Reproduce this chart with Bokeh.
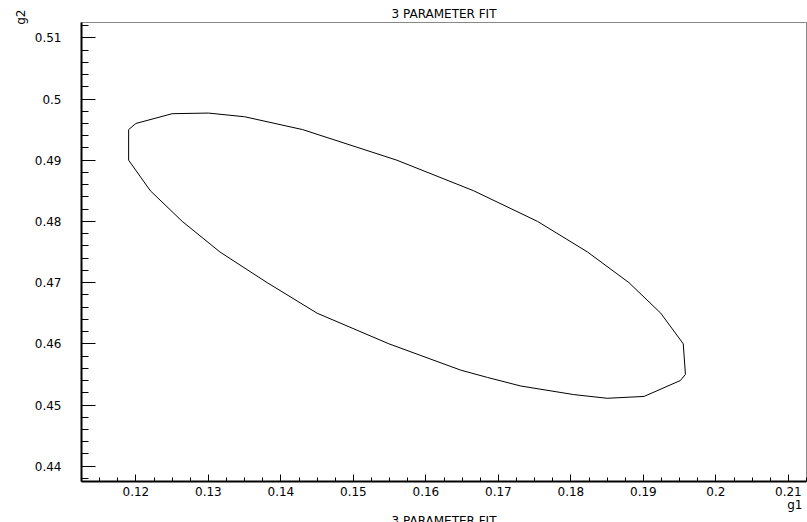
from bokeh.plotting import figure
from bokeh.models import Range1d, FixedTicker, Title
from bokeh.embed import file_html
from bokeh.resources import INLINE

# contour of the 3-parameter fit (g1, g2)
G1 = [0.1190, 0.1190, 0.1200, 0.1250, 0.1300, 0.1350, 0.1430, 0.1560, 0.1666,
      0.1754, 0.1823, 0.1880, 0.1924, 0.1955, 0.1958, 0.1951, 0.1901, 0.1850,
      0.1804, 0.1731, 0.1685, 0.1648, 0.1549, 0.1450, 0.1381, 0.1316, 0.1264,
      0.1220, 0.1190]
G2 = [0.4900, 0.4950, 0.4960, 0.4976, 0.4977, 0.4971, 0.4950, 0.4900, 0.4850,
      0.4800, 0.4750, 0.4700, 0.4650, 0.4600, 0.4550, 0.4540, 0.4514, 0.4511,
      0.4517, 0.4531, 0.4545, 0.4557, 0.4600, 0.4650, 0.4700, 0.4750, 0.4800,
      0.4850, 0.4900]

X_TICKS = [0.12, 0.13, 0.14, 0.15, 0.16, 0.17, 0.18, 0.19, 0.20, 0.21]
X_LABELS = ["0.12", "0.13", "0.14", "0.15", "0.16", "0.17", "0.18", "0.19", "0.2", "0.21"]
Y_TICKS = [0.44, 0.45, 0.46, 0.47, 0.48, 0.49, 0.50, 0.51]
Y_LABELS = ["0.44", "0.45", "0.46", "0.47", "0.48", "0.49", "0.5", "0.51"]

TITLE = "3 PARAMETER FIT"
X_TITLE = "g1"
Y_TITLE = "g2"

X0, X1 = 0.1125, 0.2125
Y0, Y1 = 0.4375, 0.5125

FONT = "DejaVu Sans"

p = figure(frame_width=725, frame_height=459, output_backend="svg",
           toolbar_location=None,
           x_range=Range1d(X0, X1), y_range=Range1d(Y0, Y1),
           min_border_left=81, min_border_right=1, min_border_top=22,
           min_border_bottom=0)
p.background_fill_color = "white"
p.border_fill_color = "white"
p.outline_line_color = "#888888"
p.outline_line_width = 1
p.xgrid.visible = False
p.ygrid.visible = False

p.title.text = TITLE
p.title.align = "center"
p.title.text_font = FONT
p.title.text_font_size = "12px"
p.title.text_font_style = "normal"
p.title.text_color = "black"
p.title.standoff = 4

x_minor = [round(X0 + i * 0.0025, 5) for i in range(41)]
y_minor = [round(Y0 + 0.0005 + i * 0.002, 5) for i in range(38)]

xa = p.xaxis[0]
xa.ticker = FixedTicker(ticks=X_TICKS, minor_ticks=x_minor)
xa.major_label_overrides = dict(zip(X_TICKS, X_LABELS))
xa.axis_line_color = "black"
xa.axis_line_width = 2
xa.major_tick_in = 7
xa.major_tick_out = 0
xa.minor_tick_in = 4
xa.minor_tick_out = 0
xa.major_tick_line_color = "black"
xa.minor_tick_line_color = "black"
xa.major_label_standoff = 5
xa.major_label_text_font = FONT
xa.major_label_text_font_size = "12px"
xa.major_label_text_color = "black"

ya = p.yaxis[0]
ya.ticker = FixedTicker(ticks=Y_TICKS, minor_ticks=y_minor)
ya.major_label_overrides = dict(zip(Y_TICKS, Y_LABELS))
ya.axis_line_color = "black"
ya.axis_line_width = 2
ya.major_tick_in = 14
ya.major_tick_out = 0
ya.minor_tick_in = 7
ya.minor_tick_out = 0
ya.major_tick_line_color = "black"
ya.minor_tick_line_color = "black"
ya.major_label_standoff = 20
ya.major_label_text_font = FONT
ya.major_label_text_font_size = "12px"
ya.major_label_text_color = "black"

p.line(G1, G2, line_color="black", line_width=1)

p.add_layout(Title(text=X_TITLE, align="right", offset=4, standoff=-6,
                   text_font=FONT, text_font_size="12px",
                   text_font_style="normal", text_color="black"), "below")
p.add_layout(Title(text=TITLE, align="center", standoff=6,
                   text_font=FONT, text_font_size="12px",
                   text_font_style="normal", text_color="black"), "below")
p.add_layout(Title(text=Y_TITLE, align="right", offset=-13, standoff=7,
                   text_font=FONT, text_font_size="12px",
                   text_font_style="normal", text_color="black"), "left")

open("out.html", "w").write(file_html(p, INLINE))
